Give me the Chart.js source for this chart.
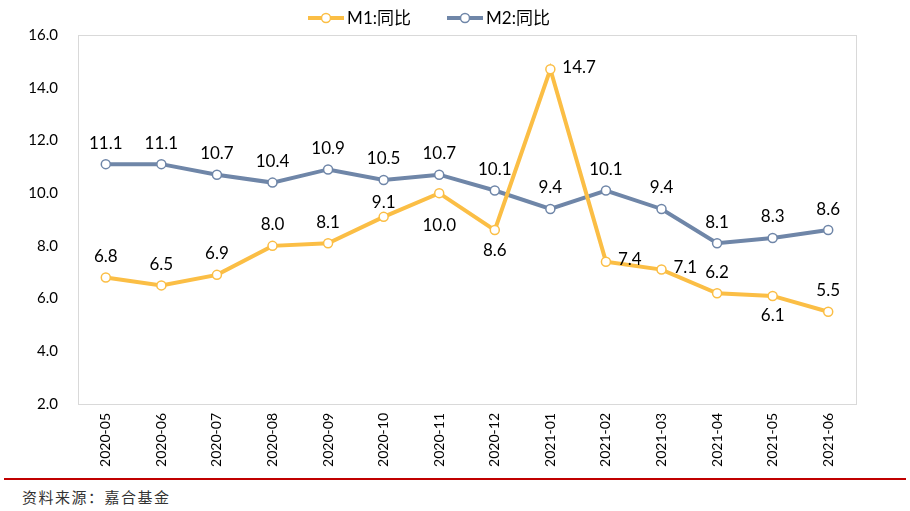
<!DOCTYPE html>
<html>
<head>
<meta charset="utf-8">
<script src="https://cdn.jsdelivr.net/npm/chart.js@4"></script>
<style>
  body { margin: 0; background: #fff; }
  #wrap { position: relative; width: 910px; height: 476px; }
  #legend { position: absolute; top: 4px; left: -26px; width: 910px; text-align: center; font-family: Lato, "Noto Sans CJK SC", sans-serif; font-size: 17px; color: #000; }
  #legend span.item { display: inline-block; margin: 0 18px; }
  #legend canvas { vertical-align: middle; margin-right: 3px; position: relative; top: -2px; }
  #rule { position: absolute; left: 4px; top: 478px; width: 902px; height: 2px; background: #C00000; }
  #source { position: absolute; left: 22px; top: 486px; font-family: "Noto Sans CJK SC", serif; font-size: 15px; letter-spacing: 1.5px; color: #333; }
</style>
</head>
<body>
<div id="wrap"><canvas id="chart"></canvas><div id="legend"></div></div>
<div id="rule"></div>
<div id="source">资料来源：嘉合基金</div>
<script>
const months = ['2020-05', '2020-06', '2020-07', '2020-08', '2020-09', '2020-10', '2020-11',
  '2020-12', '2021-01', '2021-02', '2021-03', '2021-04', '2021-05', '2021-06'];
const m1 = [6.8, 6.5, 6.9, 8.0, 8.1, 9.1, 10.0, 8.6, 14.7, 7.4, 7.1, 6.2, 6.1, 5.5];
const m2 = [11.1, 11.1, 10.7, 10.4, 10.9, 10.5, 10.7, 10.1, 9.4, 10.1, 9.4, 8.1, 8.3, 8.6];
const seriesNames = ['M1:同比', 'M2:同比'];

const orange = '#FBBE45';
const blue = '#6F86A8';

// where each value label sits relative to its point
const m1Place = ['up', 'up', 'up', 'up', 'up', 'upNear', 'downFar', 'down', 'right', 'right', 'right', 'up', 'down', 'up'];
const m2Place = months.map(() => 'up');

function legendIcon(color) {
  const c = document.createElement('canvas');
  c.width = 36; c.height = 12;
  const g = c.getContext('2d');
  g.strokeStyle = color;
  g.lineWidth = 4;
  g.beginPath(); g.moveTo(0, 6); g.lineTo(36, 6); g.stroke();
  g.fillStyle = '#fff';
  g.lineWidth = 1.5;
  g.beginPath(); g.arc(18, 6, 4.5, 0, Math.PI * 2); g.fill(); g.stroke();
  return c;
}

const frame = {
  id: 'frame',
  beforeDatasetsDraw(chart) {
    const a = chart.chartArea, ctx = chart.ctx;
    ctx.save();
    ctx.strokeStyle = '#D9D9D9';
    ctx.lineWidth = 1;
    ctx.strokeRect(a.left + 0.5, a.top + 0.5, a.right - a.left, a.bottom - a.top);
    ctx.restore();
  }
};

const valueLabels = {
  id: 'valueLabels',
  afterDatasetsDraw(chart) {
    const ctx = chart.ctx;
    ctx.save();
    ctx.font = '17px Lato, "Liberation Sans", sans-serif';
    ctx.fillStyle = '#000';
    ctx.textBaseline = 'middle';
    [m1Place, m2Place].forEach((places, di) => {
      const meta = chart.getDatasetMeta(di);
      meta.data.forEach((pt, i) => {
        const txt = chart.data.datasets[di].data[i].toFixed(1);
        const p = places[i];
        ctx.textAlign = 'center';
        if (p === 'right') {
          ctx.textAlign = 'left';
          ctx.fillText(txt, pt.x + 12, pt.y - 2);
        } else if (p === 'down') {
          ctx.fillText(txt, pt.x, pt.y + 20);
        } else if (p === 'downFar') {
          ctx.fillText(txt, pt.x, pt.y + 32);
        } else if (p === 'upNear') {
          ctx.fillText(txt, pt.x, pt.y - 14);
        } else {
          ctx.fillText(txt, pt.x, pt.y - 21);
        }
      });
    });
    ctx.restore();
  }
};

const ds = (label, data, color) => ({
  label: label,
  data: data,
  borderColor: color,
  backgroundColor: '#fff',
  borderWidth: 4,
  pointRadius: 4.5,
  pointBorderWidth: 1.5,
  pointBackgroundColor: '#fff',
  pointBorderColor: color,
  pointStyle: 'circle',
  tension: 0
});

const chartData = {
  labels: months,
  datasets: [ds(seriesNames[0], m1, orange), ds(seriesNames[1], m2, blue)]
};

const legend = document.getElementById('legend');
chartData.datasets.forEach(d => {
  const item = document.createElement('span');
  item.className = 'item';
  item.appendChild(legendIcon(d.borderColor));
  item.appendChild(document.createTextNode(d.label));
  legend.appendChild(item);
});

new Chart(document.getElementById('chart'), {
  type: 'line',
  data: chartData,
  options: {
    responsive: true,
    maintainAspectRatio: false,
    animation: false,
    layout: { padding: { left: 0, right: 54, top: 35, bottom: 4 } },
    plugins: {
      tooltip: { enabled: false },
      legend: { display: false }
    },
    scales: {
      x: {
        offset: true,
        grid: { display: false, drawTicks: false },
        border: { display: false },
        ticks: {
          maxRotation: 90, minRotation: 90, padding: 9, color: '#000',
          font: { size: 14, family: 'Lato, "Liberation Sans", sans-serif' }
        },
        afterFit(s) { s.height = 68; }
      },
      y: {
        min: 2, max: 16,
        grid: { display: false, drawTicks: false },
        border: { display: false },
        ticks: {
          stepSize: 2, padding: 20, color: '#000',
          font: { size: 15, family: 'Lato, "Liberation Sans", sans-serif' },
          callback: v => v.toFixed(1)
        },
        afterFit(s) { s.width = 78; }
      }
    }
  },
  plugins: [frame, valueLabels]
});
</script>
</body>
</html>
